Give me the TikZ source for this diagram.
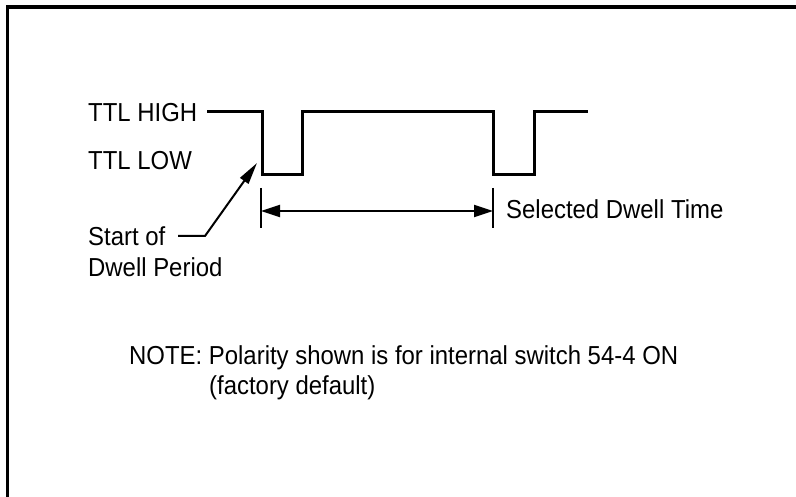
\documentclass[tikz,border=0pt]{standalone}
\usepackage{fontspec}
\setmainfont{Liberation Sans}[FakeStretch=0.92]
\usetikzlibrary{arrows.meta}
\begin{document}
\begin{tikzpicture}[x=1pt,y=-1pt,
  lbl/.style={anchor=base west,inner sep=0pt,font=\fontsize{26}{31}\selectfont},
  wave/.style={line width=3pt,line join=miter},
  tick/.style={line width=2pt},
  dim/.style={line width=1.8pt,{Triangle[length=19pt,width=12pt]}-{Triangle[length=19pt,width=12pt]}},
  pointer/.style={line width=2pt,-{Triangle[length=22pt,width=10pt]}}]
\useasboundingbox (0,0) rectangle (796,497);
\draw[line width=3.5pt] (7.5,497) -- (7.5,7) -- (796,7);
% labels
\node[lbl] (hi) at (88,122) {TTL HIGH};
\node[lbl] (lo) at (88,170) {TTL LOW};
\node[lbl] (st) at (88,246) {Start of};
\node[lbl] (dp) at (88,277) {Dwell Period};
\node[lbl] (sdt) at (506,219) {Selected Dwell Time};
\node[lbl] (note) at (129,365) {NOTE: Polarity shown is for internal switch 54-4 ON};
\node[lbl] (fd) at (209,395) {(factory default)};
% waveform
\coordinate (w0) at (207,112);
\coordinate (w1) at (262,112);
\coordinate (w2) at (262,175);
\coordinate (w3) at (302,175);
\coordinate (w4) at (302,112);
\coordinate (w5) at (493,112);
\coordinate (w6) at (493,175);
\coordinate (w7) at (534,175);
\coordinate (w8) at (534,112);
\coordinate (w9) at (588,112);
\draw[wave] (w0) -- (w1) -- (w2) -- (w3) -- (w4) -- (w5) -- (w6) -- (w7) -- (w8) -- (w9);
% ticks
\coordinate (t1a) at (261,188); \coordinate (t1b) at (261,228);
\coordinate (t2a) at (493,188); \coordinate (t2b) at (493,228);
\draw[tick] (t1a) -- (t1b);
\draw[tick] (t2a) -- (t2b);
\coordinate (d1) at (261,211); \coordinate (d2) at (493,211);
\draw[dim] (d1) -- (d2);
% pointer
\coordinate (p0) at (178,236);
\coordinate (p1) at (205,236);
\coordinate (p2) at (257,163);
\draw[pointer] (p0) -- (p1) -- (p2);
\end{tikzpicture}
\end{document}
